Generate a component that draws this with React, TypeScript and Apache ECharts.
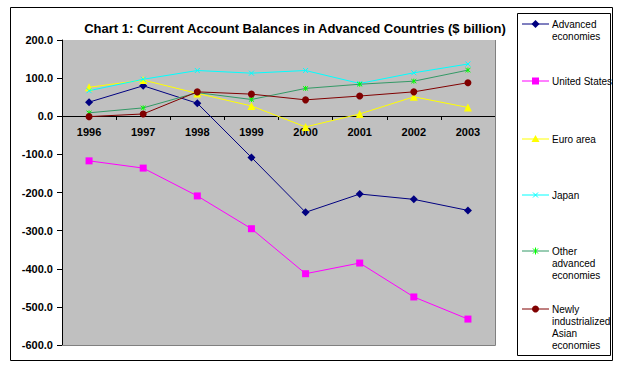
import React, { useEffect, useRef } from "react";
import * as echarts from "echarts";

const years = ["1996", "1997", "1998", "1999", "2000", "2001", "2002", "2003"];
const seriesNames = [
  "Advanced\neconomies",
  "United States",
  "Euro area",
  "Japan",
  "Other\nadvanced\neconomies",
  "Newly\nindustrialized\nAsian\neconomies",
];
const advanced = [37, 80, 34, -108, -252, -204, -218, -247];
const unitedStates = [-117, -136, -209, -295, -413, -385, -474, -532];
const euroArea = [76, 95, 60, 27, -28, 6, 51, 23];
const japan = [67, 97, 120, 113, 120, 86, 114, 137];
const otherAdvanced = [9, 22, 62, 44, 73, 84, 92, 121];
const newlyIndustrialized = [-1, 6, 64, 58, 43, 53, 64, 88];
const yTicks = { min: -600, max: 200, interval: 100 };

const FONT = "Arial, 'Liberation Sans', sans-serif";
const xPath = "path://M0,0L10,10M10,0L0,10";
const starPath = "path://M0,0L10,10M10,0L0,10M5,-1L5,11";

const styles = [
  { line: "#000080", mark: "#000080", symbol: "diamond", size: 8 },
  { line: "#FF00FF", mark: "#FF00FF", symbol: "rect", size: 7 },
  { line: "#FFFF00", mark: "#FFFF00", symbol: "triangle", size: 8 },
  { line: "#00FFFF", mark: "#00FFFF", symbol: xPath, size: 5 },
  { line: "#339966", mark: "#00FF00", symbol: starPath, size: 5 },
  { line: "#800000", mark: "#800000", symbol: "circle", size: 7 },
];

function legendMarker(i: number, cx: number, cy: number): any[] {
  const c = styles[i].mark;
  switch (i) {
    case 0:
      return [{ type: "polygon", shape: { points: [[cx, cy - 4], [cx + 4, cy], [cx, cy + 4], [cx - 4, cy]] }, style: { fill: c } }];
    case 1:
      return [{ type: "rect", shape: { x: cx - 3.5, y: cy - 3.5, width: 7, height: 7 }, style: { fill: c } }];
    case 2:
      return [{ type: "polygon", shape: { points: [[cx, cy - 4], [cx + 4, cy + 3], [cx - 4, cy + 3]] }, style: { fill: c } }];
    case 3:
      return [
        { type: "line", shape: { x1: cx - 2.5, y1: cy - 2.5, x2: cx + 2.5, y2: cy + 2.5 }, style: { stroke: c, lineWidth: 1 } },
        { type: "line", shape: { x1: cx + 2.5, y1: cy - 2.5, x2: cx - 2.5, y2: cy + 2.5 }, style: { stroke: c, lineWidth: 1 } },
      ];
    case 4:
      return [
        { type: "line", shape: { x1: cx - 2.5, y1: cy - 2.5, x2: cx + 2.5, y2: cy + 2.5 }, style: { stroke: c, lineWidth: 1 } },
        { type: "line", shape: { x1: cx + 2.5, y1: cy - 2.5, x2: cx - 2.5, y2: cy + 2.5 }, style: { stroke: c, lineWidth: 1 } },
        { type: "line", shape: { x1: cx, y1: cy - 3.5, x2: cx, y2: cy + 3.5 }, style: { stroke: c, lineWidth: 1 } },
      ];
    default:
      return [{ type: "circle", shape: { cx, cy, r: 3.5 }, style: { fill: c } }];
  }
}

export default function App() {
  const ref = useRef<HTMLDivElement>(null);
  useEffect(() => {
    if (!ref.current) return;
    const chart = echarts.init(ref.current, undefined, { renderer: "svg" });
    const data = [advanced, unitedStates, euroArea, japan, otherAdvanced, newlyIndustrialized];
    const legendY = [24, 81, 139, 195, 251, 309];

    const legendEls: any[] = [];
    seriesNames.forEach((name, i) => {
      const y = legendY[i];
      legendEls.push({ type: "line", z: 102, shape: { x1: 522, y1: y, x2: 549, y2: y }, style: { stroke: styles[i].line, lineWidth: 1 } });
      legendMarker(i, 535.5, y).forEach((m) => legendEls.push({ ...m, z: 103 }));
      legendEls.push({
        type: "text",
        z: 103,
        style: { text: name, x: 552, y: y - 6, font: `10px ${FONT}`, lineHeight: 12, fill: "#000", verticalAlign: "top", align: "left" },
      });
    });

    // plot: top 40, height 305, y range 800 -> zero at 40 + 305*200/800
    const zeroOffset = -Math.round((305 * 600) / 800);

    chart.setOption({
      animation: false,
      backgroundColor: "#fff",
      title: {
        text: "Chart 1: Current Account Balances in Advanced Countries ($ billion)",
        left: 290,
        textAlign: "center",
        top: 17,
        textStyle: { fontFamily: FONT, fontSize: 13, fontWeight: "bold", color: "#000" },
      },
      grid: {
        left: 62, top: 40, width: 433, height: 305,
        show: true, backgroundColor: "#C0C0C0", borderWidth: 0,
      },
      xAxis: {
        type: "category",
        data: years,
        boundaryGap: true,
        position: "bottom",
        offset: zeroOffset,
        axisLine: { onZero: false, lineStyle: { color: "#000", width: 1 } },
        axisTick: { show: true, alignWithLabel: false, length: 4, lineStyle: { color: "#000" } },
        axisLabel: { color: "#000", fontFamily: FONT, fontSize: 11, fontWeight: "bold", margin: 10 },
        splitLine: { show: false },
      },
      yAxis: {
        type: "value",
        min: yTicks.min, max: yTicks.max, interval: yTicks.interval,
        axisLine: { show: true, lineStyle: { color: "#000", width: 1 } },
        axisTick: { show: true, length: 5, lineStyle: { color: "#000" } },
        axisLabel: {
          color: "#000", fontFamily: FONT, fontSize: 11, fontWeight: "bold", margin: 9,
          formatter: (v: number) => v.toFixed(1),
        },
        splitLine: { show: false },
      },
      series: data.map((d, i) => ({
        type: "line",
        name: seriesNames[i],
        data: d,
        symbol: styles[i].symbol,
        symbolSize: styles[i].size,
        showSymbol: true,
        lineStyle: { color: styles[i].line, width: 1 },
        itemStyle: {
          color: styles[i].mark,
          borderColor: styles[i].mark,
          borderWidth: i === 3 || i === 4 ? 1 : 0,
        },
        emphasis: { disabled: true },
        z: 2 + i,
      })),
      graphic: [
        { type: "rect", shape: { x: 10.5, y: 7.5, width: 602, height: 353 }, style: { fill: "none", stroke: "#000", lineWidth: 1 }, z: 100 },
        { type: "line", shape: { x1: 62, y1: 345.5, x2: 495.5, y2: 345.5 }, style: { stroke: "#808080", lineWidth: 1 }, z: 1 },
        { type: "line", shape: { x1: 495.5, y1: 40, x2: 495.5, y2: 345.5 }, style: { stroke: "#808080", lineWidth: 1 }, z: 1 },
        { type: "rect", shape: { x: 517.5, y: 13.5, width: 93, height: 342 }, style: { fill: "#fff", stroke: "#000", lineWidth: 1 }, z: 100 },
        ...legendEls,
      ],
    });
    return () => chart.dispose();
  }, []);
  return <div ref={ref} style={{ position: "fixed", left: 0, top: 0, width: 623, height: 368 }} />;
}
